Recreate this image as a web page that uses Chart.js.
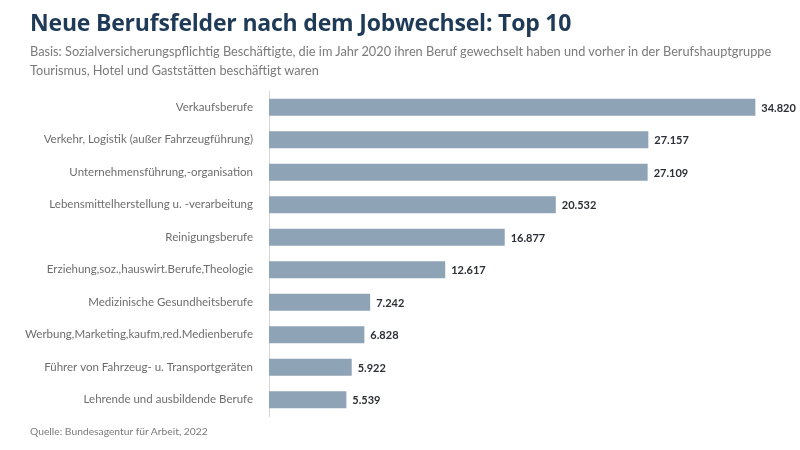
<!DOCTYPE html>
<html>
<head>
<meta charset="utf-8">
<script src="https://cdn.jsdelivr.net/npm/chart.js@4"></script>
<style>
  html, body { margin:0; padding:0; background:#fff; }
  #wrap { position:relative; width:800px; height:450px; overflow:hidden; }
  #chart { position:absolute; left:0; top:0; }
  .t { position:absolute; left:30px; white-space:nowrap; }
  #title { top:6px; font-family:"Open Sans", sans-serif; font-weight:700; font-size:23px; color:#1f3a56; letter-spacing:-0.2px; }
  #sub { top:42px; font-family:"Lato", sans-serif; font-size:12.75px; line-height:19px; color:#7a7a7a; }
  #src { top:425px; font-family:"Lato", sans-serif; font-size:10.3px; color:#7a7a7a; }
</style>
</head>
<body>
<div id="wrap">
  <canvas id="chart" width="800" height="450"></canvas>
  <div class="t" id="title">Neue Berufsfelder nach dem Jobwechsel: Top 10</div>
  <div class="t" id="sub">Basis: Sozialversicherungspflichtig Beschäftigte, die im Jahr 2020 ihren Beruf gewechselt haben und vorher in der Berufshauptgruppe<br>Tourismus, Hotel und Gaststätten beschäftigt waren</div>
  <div class="t" id="src">Quelle: Bundesagentur für Arbeit, 2022</div>
</div>
<script>
const categories = [
  "Verkaufsberufe",
  "Verkehr, Logistik (außer Fahrzeugführung)",
  "Unternehmensführung,-organisation",
  "Lebensmittelherstellung u. -verarbeitung",
  "Reinigungsberufe",
  "Erziehung,soz.,hauswirt.Berufe,Theologie",
  "Medizinische Gesundheitsberufe",
  "Werbung,Marketing,kaufm,red.Medienberufe",
  "Führer von Fahrzeug- u. Transportgeräten",
  "Lehrende und ausbildende Berufe"
];
const values = [34820, 27157, 27109, 20532, 16877, 12617, 7242, 6828, 5922, 5539];

const fmt = v => v.toLocaleString('de-DE');

const labelPlugin = {
  id: 'valueLabels',
  afterDatasetsDraw(chart) {
    const ctx = chart.ctx;
    const meta = chart.getDatasetMeta(0);
    ctx.save();
    ctx.font = 'bold 11px Lato, sans-serif';
    ctx.fillStyle = '#2b2f36';
    ctx.textAlign = 'left';
    ctx.textBaseline = 'middle';
    meta.data.forEach((bar, i) => {
      ctx.fillText(fmt(values[i]), bar.x + 6, bar.y + 1);
    });
    ctx.restore();
  }
};

new Chart(document.getElementById('chart'), {
  type: 'bar',
  data: {
    labels: categories,
    datasets: [{
      data: values,
      backgroundColor: '#8fa3b7',
      borderWidth: 0,
      barPercentage: 0.52,
      categoryPercentage: 1.0
    }]
  },
  options: {
    indexAxis: 'y',
    responsive: false,
    animation: false,
    layout: { padding: { top: 91, bottom: 34, right: 10, left: 0 } },
    plugins: { legend: { display: false }, tooltip: { enabled: false } },
    scales: {
      x: { display: false, min: 0, max: 37300 },
      y: {
        afterFit(scale) { scale.width = 269; },
        grid: { display: false, drawTicks: false },
        border: { display: true, color: '#d6d6d6', width: 1 },
        ticks: {
          padding: 16,
          color: '#6d6d6d',
          font: { family: 'Lato', size: 11.5 }
        }
      }
    }
  },
  plugins: [labelPlugin]
});
</script>
</body>
</html>
